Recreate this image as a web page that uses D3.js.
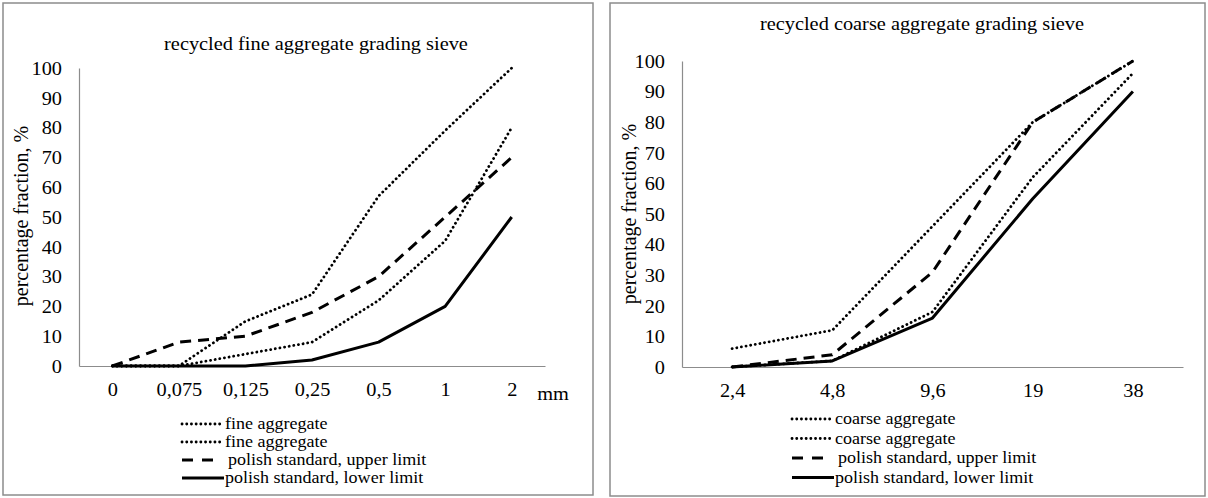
<!DOCTYPE html>
<html>
<head>
<meta charset="utf-8">
<script src="https://cdn.jsdelivr.net/npm/d3@7"></script>
<style>
  html, body { margin: 0; padding: 0; background: #fff; }
  svg { display: block; }
  text { font-family: "Liberation Serif", "Times New Roman", serif; fill: #000; }
</style>
</head>
<body>
<svg id="chart" width="1208" height="498"></svg>
<script>
// ---------- data ----------
const fineCategories = ["0", "0,075", "0,125", "0,25", "0,5", "1", "2"];
const fineAggregateA = [0, 0, 15, 24, 57, 79, 100];
const fineAggregateB = [0, 0, 4, 8, 22, 42, 80];
const fineUpperLimit = [0, 8, 10, 18, 30, 50, 70];
const fineLowerLimit = [0, 0, 0, 2, 8, 20, 50];

const coarseCategories = ["2,4", "4,8", "9,6", "19", "38"];
const coarseAggregateA = [6, 12, 46, 80, 100];
const coarseAggregateB = [0, 2, 18, 62, 96];
const coarseUpperLimit = [0, 4, 31, 80, 100];
const coarseLowerLimit = [0, 2, 16, 55, 90];

const yTicks = [0, 10, 20, 30, 40, 50, 60, 70, 80, 90, 100];

const fineLegend = ["fine aggregate", "fine aggregate", "polish standard, upper limit", "polish standard, lower limit"];
const coarseLegend = ["coarse aggregate", "coarse aggregate", "polish standard, upper limit", "polish standard, lower limit"];

// ---------- styles ----------
const SX = 1.1; // horizontal stretch of text in the reference
const lineStyles = [
  { width: 2.8, dash: "0.1,4.6", cap: "round" },
  { width: 2.8, dash: "0.1,4.6", cap: "round" },
  { width: 3, dash: "11,7", cap: "butt" },
  { width: 3, dash: null, cap: "butt" }
];

const svg = d3.select("#chart");

function stext(g, x, y, str, size, anchor) {
  return g.append("text")
    .attr("transform", `translate(${x},${y}) scale(${SX},1)`)
    .attr("font-size", size)
    .attr("text-anchor", anchor || "start")
    .text(str);
}

function panel(cfg) {
  const g = svg.append("g");
  g.append("rect")
    .attr("x", cfg.frame[0]).attr("y", cfg.frame[1])
    .attr("width", cfg.frame[2]).attr("height", cfg.frame[3])
    .attr("fill", "none").attr("stroke", "#8c8c8c").attr("stroke-width", 1.5);

  const x = d3.scalePoint().domain(cfg.categories).range([cfg.x0, cfg.x1]).padding(0.5);
  const y = d3.scaleLinear().domain([0, 100]).range([cfg.yBottom, cfg.yTop]);

  const ya = g.append("g").attr("transform", `translate(${cfg.x0},0)`)
    .call(d3.axisLeft(y).tickValues(yTicks).tickSize(0).tickFormat(d3.format("d")));
  ya.select(".domain").attr("stroke", "#8c8c8c").attr("stroke-width", 1.2);
  ya.selectAll("text")
    .attr("x", null).attr("dy", "0.34em")
    .attr("transform", `translate(-17,0) scale(${SX},1)`)
    .attr("font-size", 18.5).attr("font-family", null).attr("fill", "#000");

  const xa = g.append("g").attr("transform", `translate(0,${cfg.yBottom})`)
    .call(d3.axisBottom(x).tickSize(0));
  xa.select(".domain").attr("stroke", "#8c8c8c").attr("stroke-width", 1.2);
  xa.selectAll("text")
    .attr("y", null).attr("dy", "0.71em")
    .attr("transform", `translate(0,17) scale(${SX},1)`)
    .attr("font-size", 18.5).attr("font-family", null).attr("fill", "#000");

  stext(g, cfg.titleX, cfg.titleY, cfg.title, 18.5, "middle");
  g.append("text")
    .attr("transform", `translate(${cfg.yTitleX},${cfg.yTitleY}) scale(${SX},1) rotate(-90)`)
    .attr("font-size", 20).attr("text-anchor", "middle")
    .text("percentage fraction, %");
  if (cfg.unit) stext(g, cfg.unit[0], cfg.unit[1], "mm", 18.5, "middle");

  const line = d3.line()
    .x((d, i) => x(cfg.categories[i]))
    .y(d => y(d))
    .curve(d3.curveLinear);
  [3, 2, 1, 0].forEach(k => {
    const st = lineStyles[k];
    g.append("path")
      .datum(cfg.series[k])
      .attr("d", line)
      .attr("fill", "none")
      .attr("stroke", "#000")
      .attr("stroke-width", st.width)
      .attr("stroke-linecap", st.cap)
      .attr("stroke-linejoin", "round")
      .attr("stroke-dasharray", st.dash);
  });

  cfg.legend.forEach((lab, k) => {
    const st = lineStyles[k];
    const ly = cfg.legY + k * cfg.legStep;
    g.append("line")
      .attr("x1", cfg.legX).attr("x2", cfg.legX + (k === 3 ? 42 : (k === 2 ? 32 : 38)))
      .attr("y1", ly).attr("y2", ly)
      .attr("stroke", "#000")
      .attr("stroke-width", st.width)
      .attr("stroke-linecap", st.cap)
      .attr("stroke-dasharray", k === 2 ? "11,9" : st.dash);
    stext(g, cfg.legX + 43 + (k === 2 ? 3 : 0), ly, lab, 16.4, "start").attr("dy", "0.33em");
  });
}

panel({
  frame: [3, 3, 590, 492],
  categories: fineCategories,
  x0: 79, x1: 545, yBottom: 366, yTop: 68,
  title: "recycled fine aggregate grading sieve", titleX: 316, titleY: 50,
  yTitleX: 28, yTitleY: 216,
  unit: [553, 400],
  series: [fineAggregateA, fineAggregateB, fineUpperLimit, fineLowerLimit],
  legend: fineLegend, legX: 182, legY: 424, legStep: 18
});

panel({
  frame: [610, 3, 595, 493],
  categories: coarseCategories,
  x0: 682, x1: 1183, yBottom: 367, yTop: 61,
  title: "recycled coarse aggregate grading sieve", titleX: 922, titleY: 30,
  yTitleX: 636, yTitleY: 214,
  unit: null,
  series: [coarseAggregateA, coarseAggregateB, coarseUpperLimit, coarseLowerLimit],
  legend: coarseLegend, legX: 792, legY: 419, legStep: 19.5
});
</script>
</body>
</html>
